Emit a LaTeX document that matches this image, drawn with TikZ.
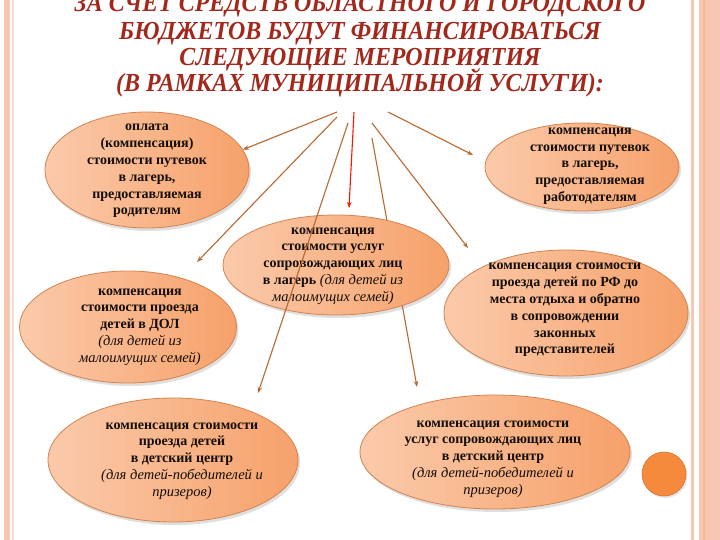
\documentclass[tikz,border=0pt]{standalone}
\usepackage{fontspec}
\setmainfont{Liberation Serif}
\newfontfamily\titlefont[FakeStretch=0.92]{Liberation Serif}
\usetikzlibrary{shapes.geometric,shadows,arrows.meta}

\definecolor{titlered}{HTML}{A3281C}
\definecolor{ovallight}{HTML}{FBCAAB}
\definecolor{ovaldark}{HTML}{F6A16A}
\definecolor{ovalline}{HTML}{D4834E}
\definecolor{linkcol}{HTML}{B9692F}
\definecolor{bandcol}{HTML}{F9C6B1}
\definecolor{dotcol}{HTML}{F58A3C}

\newcommand\remarktext[1]{{\mdseries\itshape\fontsize{14.5}{16.8}\selectfont #1}}
\newcommand\titlestyle{\titlefont\bfseries\itshape\fontsize{26}{26}\selectfont\lineskiplimit=-30pt\relax}

\tikzset{
  oval/.style={ellipse, draw=ovalline, line width=0.8pt, left color=ovallight, right color=ovaldark,
    drop shadow={opacity=0.25, shadow xshift=2pt, shadow yshift=-3pt}, inner sep=0pt},
  txt/.style={align=center, text=black!90!brown, font=\bfseries\fontsize{14}{16.8}\selectfont},
  link/.style={draw=linkcol, line width=1.1pt, -{Stealth[length=6pt,width=4.5pt]}},
}

\begin{document}
\begin{tikzpicture}[x=1pt,y=-1pt]
\useasboundingbox (0,0) rectangle (720,540);
\clip (0,0) rectangle (720,540);
\fill[white] (0,0) rectangle (720,540);
% page borders
\fill[bandcol] (3.5,0) rectangle (9.5,540);
\fill[bandcol!60] (12,0) rectangle (13.5,540);
\fill[bandcol] (691,0) rectangle (694,540);
\fill[bandcol] (699,0) rectangle (720,540);
\fill[bandcol!80!orange] (703,0) rectangle (705,540);

\node[text=titlered, font=\titlestyle, align=center, anchor=south, inner sep=0pt] (title) at (360,97)
  {ЗА СЧЕТ СРЕДСТВ ОБЛАСТНОГО И ГОРОДСКОГО\\[2pt]БЮДЖЕТОВ БУДУТ ФИНАНСИРОВАТЬСЯ\\СЛЕДУЮЩИЕ МЕРОПРИЯТИЯ\\(В РАМКАХ МУНИЦИПАЛЬНОЙ УСЛУГИ):};

\coordinate (s1) at (337,112);
\coordinate (s2) at (337,117);
\coordinate (s3) at (348,123);
\coordinate (s4) at (354,112);
\coordinate (s5) at (372,138);
\coordinate (s6) at (372,123);
\coordinate (s7) at (388,112);
\coordinate (t2) at (197,262);
\coordinate (t3) at (258,393);
\coordinate (t4) at (349,208);
\coordinate (t5) at (417,387);
\coordinate (t6) at (468,248);
\coordinate (t7) at (473,155);

% this one runs behind the middle oval
\draw[link] (s5) -- (t5);

\node[oval, minimum width=204pt, minimum height=116pt] (e1) at (147,170) {};
\node[oval, minimum width=194pt, minimum height=88pt] (e2) at (582,167) {};
\node[oval, minimum width=226pt, minimum height=100pt] (ec) at (336,265) {};
\node[oval, minimum width=217pt, minimum height=112pt] (e3) at (128,327) {};
\node[oval, minimum width=244pt, minimum height=126pt] (e4) at (566,313) {};
\node[oval, minimum width=250pt, minimum height=124pt] (e5) at (173,460) {};
\node[oval, minimum width=270pt, minimum height=114pt] (e6) at (495,452) {};
\fill[dotcol, draw=dotcol!85!black, line width=0.6pt,
  drop shadow={opacity=0.2, shadow xshift=1.5pt, shadow yshift=-2pt}] (664,474) circle (22pt);

\node[txt] (e1t) at (147,171) {оплата\\(компенсация)\\стоимости путевок\\в лагерь,\\предоставляемая\\родителям};
\node[txt] (e2t) at (590,166) {компенсация\\стоимости путевок\\в лагерь,\\предоставляемая\\работодателям};
\node[txt] (ect) at (333,266) {компенсация\\стоимости услуг\\сопровождающих лиц\\в лагерь \remarktext{(для детей из}\\\remarktext{малоимущих семей)}};
\node[txt] (e3t) at (140,327) {компенсация\\стоимости проезда\\детей в ДОЛ\\\remarktext{(для детей из}\\\remarktext{малоимущих семей)}};
\node[txt] (e4t) at (565,310) {компенсация стоимости\\проезда детей по РФ до\\места отдыха и обратно\\в сопровождении\\законных\\представителей};
\node[txt] (e5t) at (182,461) {компенсация стоимости\\проезда детей\\в детский центр\\\remarktext{(для детей-победителей и}\\\remarktext{призеров)}};
\node[txt] (e6t) at (493,459) {компенсация стоимости\\услуг сопровождающих лиц\\в детский центр\\\remarktext{(для детей-победителей и}\\\remarktext{призеров)}};

\draw[link] (s1) -- (e1.12);
\draw[link] (s2) -- (t2);
\draw[link] (s3) -- (t3);
\draw[link, draw=red!85!orange] (s4) -- (t4);
\draw[link] (s6) -- (t6);
\draw[link] (s7) -- (t7);
\end{tikzpicture}
\end{document}
